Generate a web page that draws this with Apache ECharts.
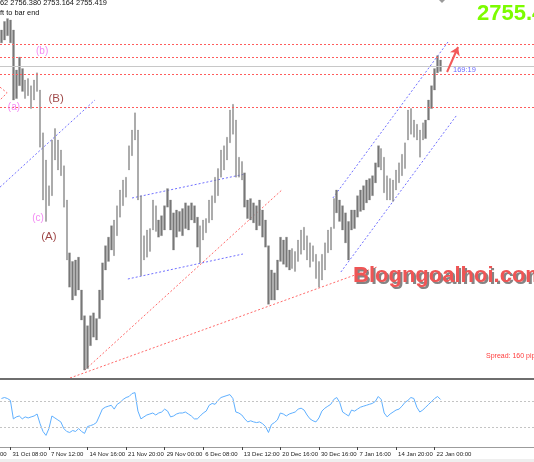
<!DOCTYPE html>
<html><head><meta charset="utf-8">
<script src="https://cdn.jsdelivr.net/npm/echarts@6/dist/echarts.min.js"></script>
<style>html,body{margin:0;padding:0;background:#fff}#c{width:534px;height:462px}</style>
</head><body><div id="c"></div>
<script>
// price bars (XAUUSD), highs / lows
const highs = [2776,2782,2784,2783,2776,2748,2757,2749,2741,2742,
2737,2741,2746,2734,2704,2685,2667,2699,2707,2699,
2692,2681,2657,2620,2614,2615,2617,2594,2576,2569,
2576,2578,2574,2594,2613,2625,2631,2639,2643,2653,
2664,2671,2673,2695,2706,2718,2706,2660,2632,2636,
2637,2657,2653,2643,2646,2653,2665,2657,2648,2650,
2649,2651,2655,2653,2655,2653,2645,2639,2643,2644,
2657,2660,2673,2679,2692,2695,2701,2720,2724,2713,
2687,2684,2676,2657,2658,2655,2653,2657,2650,2643,
2625,2608,2606,2615,2631,2629,2631,2622,2623,2621,
2629,2636,2638,2632,2627,2625,2619,2614,2619,2627,
2636,2638,2658,2664,2657,2653,2648,2642,2650,2650,
2660,2664,2667,2671,2672,2674,2683,2695,2693,2687,
2674,2672,2671,2678,2683,2689,2697,2720,2721,2713,
2710,2706,2711,2713,2727,2737,2749,2758,2755];
const lows = [2767,2769,2772,2767,2727,2728,2737,2733,2728,2730,
2721,2727,2733,2694,2657,2642,2653,2660,2685,2678,
2674,2652,2615,2596,2587,2590,2594,2573,2538,2539,
2555,2561,2559,2574,2587,2608,2614,2622,2618,2632,
2645,2653,2659,2678,2688,2699,2657,2604,2615,2617,
2621,2636,2635,2631,2632,2636,2652,2636,2622,2631,
2635,2632,2637,2636,2643,2641,2624,2613,2629,2634,
2641,2643,2655,2660,2673,2678,2685,2697,2703,2673,
2673,2671,2652,2644,2643,2641,2636,2639,2631,2624,
2584,2587,2587,2594,2614,2612,2610,2608,2609,2607,
2614,2619,2622,2615,2610,2614,2602,2596,2601,2608,
2620,2622,2637,2648,2642,2636,2627,2615,2636,2637,
2645,2649,2650,2655,2657,2660,2669,2680,2678,2662,
2657,2657,2656,2664,2669,2674,2679,2699,2703,2701,
2699,2687,2699,2700,2713,2721,2734,2746,2747];
// oscillator (RSI-like) values
const rsi = [73.5,75,73.5,70.6,42.6,45.6,47,42.6,45.6,44,
45.6,47,50,35.3,23.5,17.6,28,47,44,41,
38,28,23.5,22,25,23.5,28,23.5,20.6,31,
32.4,34,37,47,57.4,60.3,61.8,63.2,57.4,64.7,
67.6,72,75,76.5,81,82.4,54.4,42.6,45.6,48.5,
50,51.5,48.5,51.5,53,57.4,54.4,45.6,47,50,
51.5,51.5,53,50,47,42.6,42.6,47,51.5,54.4,
63.2,66,64.7,70.6,75,76.5,78,79.4,73.5,53,
51.5,48.5,42.6,38,39.7,38,37,38,35.3,31,
22,34,37,41,51.5,50,47,50,51.5,53,
57.4,58.8,56,48.5,42.6,39.7,38,44,54.4,58.8,
61.8,64.7,72,75,67.6,53,50,47,56,54.4,
57.4,60.3,61.8,63.2,64.7,66,69,76.5,72,51.5,
45.6,50,53,56,57.4,61.8,67.6,70.6,75,73.5,
60.3,53,56,60.3,64.7,69,73.5,76.5,72];
const rsiLevels = [30, 70];
const totalSlots = 180;
const tickLabels = ["31 Oct 08:00","7 Nov 12:00","14 Nov 16:00","21 Nov 20:00","29 Nov 00:00","6 Dec 08:00","13 Dec 12:00","20 Dec 16:00","30 Dec 16:00","7 Jan 16:00","14 Jan 20:00","22 Jan 00:00"];
const tickIndex = [3,16,29,42,55,68,81,94,107,120,133,146];
const redLevels = [2766, 2757, 2745, 2722];
const bidLevel = 2750.6;
const blueLines = [
  [[-0.5,2666],[31.5,2727]],
  [[44.0,2658.4],[82.1,2675.2]],
  [[42.6,2601.7],[81.4,2619.2]],
  [[111.7,2658.4],[150.5,2767.6]],
  [[114.4,2606.6],[153.5,2716.5]]
];
const redLines = [
  [[28.1,2538],[94.5,2664]],
  [[23.1,2532.4],[126.6,2610.1]],
  [[-0.5,2736],[1.9,2732],[-0.5,2727]]
];
const arrowLine = [[150.2,2746.6],[153.9,2764.1]];
const waveText = ['(a)','(b)','(c)','(A)','(B)'];
const waveX = [4.2, 13.7, 12.3, 16.0, 18.4];
const waveY = [2722, 2761, 2644, 2631, 2728];
const waveColor = ['#f06cf0','#f06cf0','#f06cf0','#861818','#861818'];
const waveSize = [10, 10, 10, 11.5, 11.5];
const timerText = '169:19';
const timerPos = [152.2, 2748];

const cats = new Array(totalSlots).fill('');
tickIndex.forEach((k, j) => { cats[k] = tickLabels[j]; });
const showTick = (i) => cats[i] !== '';

const FONT = 'Liberation Sans, Arial, sans-serif';
const chart = echarts.init(document.getElementById('c'), null, {renderer: 'canvas'});

const series = [];
series.push({
  type: 'candlestick', xAxisIndex: 0, yAxisIndex: 0, barWidth: 2,
  data: highs.map((h, i) => [lows[i], h, lows[i], h]),
  itemStyle: {color: '#777777', color0: '#777777', borderColor: '#8a8a8a', borderColor0: '#8a8a8a', borderWidth: 0.3},
  markLine: {
    silent: true, symbol: 'none', label: {show: false}, animation: false,
    data: redLevels.map(v => ({yAxis: v, lineStyle: {color: '#ff5c5c', type: [2, 2], width: 1}}))
      .concat([{yAxis: bidLevel, lineStyle: {color: '#c8c8c8', type: 'solid', width: 1}}])
  },
  z: 3
});
blueLines.forEach(l => series.push({
  type: 'line', xAxisIndex: 1, yAxisIndex: 0, data: l, showSymbol: false, symbol: 'none', silent: true,
  lineStyle: {color: '#7070ff', width: 1, type: [2, 2]}, z: 2
}));
redLines.forEach(l => series.push({
  type: 'line', xAxisIndex: 1, yAxisIndex: 0, data: l, showSymbol: false, symbol: 'none', silent: true,
  lineStyle: {color: '#ff6a6a', width: 1, type: [2, 2]}, z: 2
}));
series.push({
  type: 'line', xAxisIndex: 1, yAxisIndex: 0, data: [], silent: true,
  markLine: {
    silent: true, symbol: ['none', 'arrow'], symbolSize: 8, label: {show: false}, animation: false,
    lineStyle: {color: '#f25a5a', width: 2, type: 'solid'},
    data: [[{coord: arrowLine[0]}, {coord: arrowLine[1]}]]
  }, z: 4
});
series.push({
  type: 'scatter', xAxisIndex: 1, yAxisIndex: 0, symbolSize: 1, silent: true,
  itemStyle: {color: 'rgba(0,0,0,0)'},
  data: waveText.map((t, i) => ({
    value: [waveX[i], waveY[i]], name: t,
    label: {show: true, position: 'inside', formatter: t, color: waveColor[i], fontSize: waveSize[i], fontFamily: FONT}
  })).concat([{
    value: timerPos, name: timerText,
    label: {show: true, position: 'inside', align: 'left', formatter: timerText, color: '#4646ff', fontSize: 7.5, fontFamily: FONT}
  }]),
  z: 5
});
series.push({
  type: 'line', xAxisIndex: 2, yAxisIndex: 1, data: rsi, showSymbol: false, symbol: 'none', silent: true,
  lineStyle: {color: '#5fb0ff', width: 1},
  markLine: {
    silent: true, symbol: 'none', label: {show: false}, animation: false,
    lineStyle: {color: '#c4c4c4', type: [2, 2], width: 1},
    data: rsiLevels.map(v => ({yAxis: v}))
  }
});

chart.setOption({
  animation: false,
  backgroundColor: '#ffffff',
  grid: [
    {left: 0, right: 0, top: 0, height: 378},
    {left: 0, right: 0, top: 381, height: 66}
  ],
  xAxis: [
    {type: 'category', gridIndex: 0, data: cats, show: false},
    {type: 'value', gridIndex: 0, min: -0.5, max: totalSlots - 0.5, show: false},
    {type: 'category', gridIndex: 1, data: cats,
      axisLine: {show: true, lineStyle: {color: '#9c9c9c', width: 1}},
      axisTick: {show: true, interval: showTick, alignWithLabel: true, length: 3, lineStyle: {color: '#444'}},
      axisLabel: {show: true, interval: showTick, align: 'left', fontSize: 6, color: '#222', margin: 4, fontFamily: FONT, padding: [0, 0, 0, 2]},
      splitLine: {show: false}}
  ],
  yAxis: [
    {type: 'value', gridIndex: 0, min: 2532.4, max: 2797, show: false},
    {type: 'value', gridIndex: 1, min: 0, max: 100, show: false}
  ],
  series: series,
  graphic: [
    {type: 'rect', shape: {x: 0, y: 378, width: 534, height: 2}, style: {fill: '#6e6e6e'}, z: 10},
    {type: 'rect', shape: {x: 0, y: 459, width: 534, height: 3}, style: {fill: '#efefef'}, z: 10},
    {type: 'polygon', shape: {points: [[439, 0], [445, 0], [442, 3]]}, style: {fill: '#9a9a9a'}, z: 10},
    {type: 'text', x: 0, y: 3, style: {text: '62 2756.380 2753.164 2755.419', font: '7.4px ' + FONT, fill: '#111', verticalAlign: 'middle'}, z: 10},
    {type: 'text', x: 0, y: 12.5, style: {text: 'ft to bar end', font: '7.4px ' + FONT, fill: '#111', verticalAlign: 'middle'}, z: 10},
    {type: 'text', x: 477, y: 14, style: {text: '2755.4', font: 'bold 22px ' + FONT, fill: '#7cfc00', verticalAlign: 'middle'}, z: 10},
    {type: 'text', x: 355, y: 278, style: {text: 'Blogngoalhoi.com', font: 'bold 22px ' + FONT, fill: 'rgba(50,50,50,0.6)', verticalAlign: 'middle'}, z: 10},
    {type: 'text', x: 353, y: 276, style: {text: 'Blogngoalhoi.com', font: 'bold 22px ' + FONT, fill: '#ef5555', verticalAlign: 'middle'}, z: 11},
    {type: 'text', x: 486, y: 356, style: {text: 'Spread: 160 pips', font: '7px ' + FONT, fill: '#ff3c3c', verticalAlign: 'middle'}, z: 10},
    {type: 'text', x: 0, y: 454, style: {text: '00', font: '6px ' + FONT, fill: '#222', verticalAlign: 'middle'}, z: 10}
  ]
});
</script></body></html>
